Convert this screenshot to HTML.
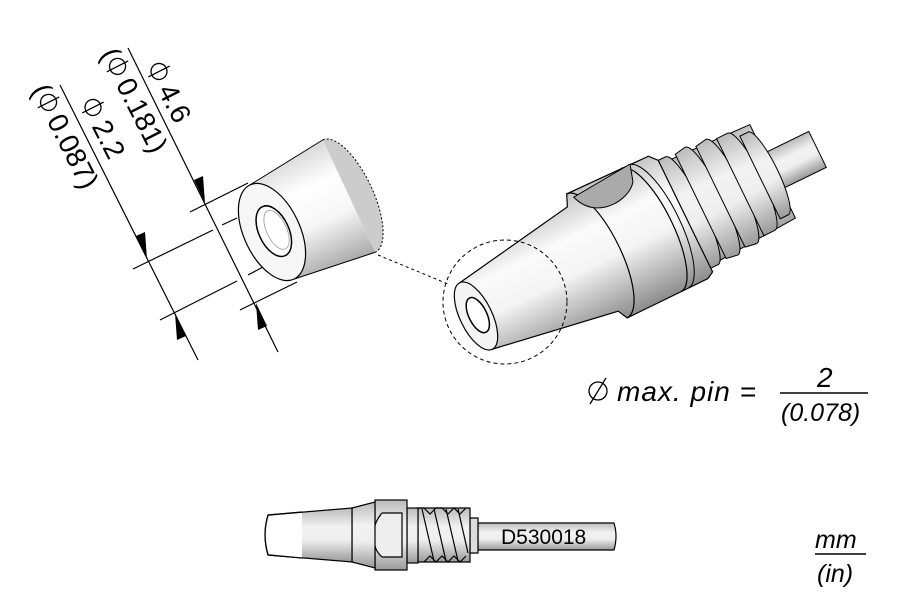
<!DOCTYPE html>
<html><head><meta charset="utf-8"><style>
html,body{margin:0;padding:0;background:#fff;}
svg{display:block;font-family:"Liberation Sans",sans-serif;}
</style></head><body>
<svg width="900" height="600" viewBox="0 0 900 600" xmlns="http://www.w3.org/2000/svg">
<defs>
<linearGradient id="g" x1="0" y1="0" x2="0" y2="1">
<stop offset="0" stop-color="#c4c4c4"/><stop offset="0.3" stop-color="#fafafa"/><stop offset="0.55" stop-color="#f4f4f4"/><stop offset="1" stop-color="#8c8c8c"/>
</linearGradient>
<linearGradient id="gb" x1="0" y1="0" x2="0" y2="1">
<stop offset="0" stop-color="#d8d8d8"/><stop offset="0.3" stop-color="#fff"/><stop offset="0.6" stop-color="#f6f6f6"/><stop offset="1" stop-color="#a8a8a8"/>
</linearGradient>
<linearGradient id="gh" x1="0" y1="0" x2="0" y2="1">
<stop offset="0" stop-color="#bbb"/><stop offset="0.35" stop-color="#f2f2f2"/><stop offset="0.6" stop-color="#eee"/><stop offset="1" stop-color="#999"/>
</linearGradient>
</defs>

<!-- dimension lines -->
<g stroke="#000" stroke-width="1.2" fill="none">
<line x1="60" y1="85" x2="198" y2="360"/>
<line x1="128" y1="48" x2="278" y2="352"/>
<line x1="190" y1="212" x2="248" y2="183"/>
<line x1="133" y1="269" x2="213" y2="230"/>
<line x1="222" y1="225" x2="237" y2="218"/>
<line x1="160" y1="320" x2="237" y2="281"/>
<line x1="248" y1="275" x2="263" y2="267"/>
<line x1="240" y1="310" x2="297" y2="282"/>
</g>
<g fill="#000">
<polygon points="147,259 136,236 145,232"/>
<polygon points="175,313 186,336 177,340"/>
<polygon points="205,203 194,180 203,176"/>
<polygon points="256,303 267,326 258,330"/>
</g>
<g font-size="28" fill="#000" stroke="none">
<g transform="translate(146,68) rotate(63)">
<circle cx="9" cy="-10" r="8" fill="none" stroke="#000" stroke-width="1.3"/><line x1="9" y1="-22" x2="9" y2="2" stroke="#000" stroke-width="1.3"/>
<text x="25" y="0">4.6</text></g>
<g transform="translate(100,54) rotate(63)">
<text x="0" y="0">(</text>
<circle cx="19" cy="-10" r="8" fill="none" stroke="#000" stroke-width="1.3"/><line x1="19" y1="-22" x2="19" y2="2" stroke="#000" stroke-width="1.3"/>
<text x="34" y="0">0.181)</text></g>
<g transform="translate(80,104) rotate(63)">
<circle cx="9" cy="-10" r="8" fill="none" stroke="#000" stroke-width="1.3"/><line x1="9" y1="-22" x2="9" y2="2" stroke="#000" stroke-width="1.3"/>
<text x="25" y="0">2.2</text></g>
<g transform="translate(31,90) rotate(63)">
<text x="0" y="0">(</text>
<circle cx="19" cy="-10" r="8" fill="none" stroke="#000" stroke-width="1.3"/><line x1="19" y1="-22" x2="19" y2="2" stroke="#000" stroke-width="1.3"/>
<text x="34" y="0">0.087)</text></g>
</g>

<!-- small tip -->
<g transform="translate(272,232) rotate(-25)">
<path d="M0,-52 L85,-62 L85,62 L0,52 Z" fill="url(#gb)"/>
<path d="M85,-62 A24,62 0 0 1 85,62" fill="#ccc" stroke="#000" stroke-width="1" stroke-dasharray="2,2"/>
<line x1="0" y1="-52" x2="85" y2="-62" stroke="#000" stroke-width="1"/>
<line x1="0" y1="52" x2="85" y2="62" stroke="#000" stroke-width="1"/>
<ellipse cx="0" cy="0" rx="28" ry="52" fill="#f6f6f6" stroke="#000" stroke-width="1.2"/>
<ellipse cx="2" cy="0" rx="15" ry="27" fill="#fff" stroke="#000" stroke-width="1.5"/>
<ellipse cx="5" cy="0" rx="10" ry="21" fill="#fff" stroke="#999" stroke-width="0.8"/>
</g>

<line x1="378" y1="255" x2="448" y2="284" stroke="#000" stroke-width="1" stroke-dasharray="3,3"/>

<!-- big tip -->
<g transform="translate(476,316) rotate(-26)">
<rect x="320" y="-20" width="60" height="40" fill="url(#gh)" stroke="#000" stroke-width="1"/>
<path d="M225,-56 L330,-52 L330,52 L225,58 Z" fill="url(#gh)" stroke="#000"/>
<g fill="url(#gh)" stroke="#000" stroke-width="1">
<path d="M240,-60 A12,60 0 0 1 240,60 L228,60 L228,-60 Z"/>
<path d="M262,-60 A12,60 0 0 1 262,60 L250,58 L250,-58 Z"/>
<path d="M284,-58 A12,58 0 0 1 284,58 L272,56 L272,-56 Z"/>
<path d="M306,-54 A12,54 0 0 1 306,54 L294,54 L294,-54 Z"/>
<path d="M325,-46 A10,46 0 0 1 325,46 L316,46 L316,-46 Z"/>
</g>
<path d="M0,-37 L130,-58 L135,-70 L225,-68 L232,-60 L232,64 L225,68 L135,68 L130,58 L0,37 Z" fill="url(#g)" stroke="#000" stroke-width="1.2"/>
<path d="M135,-70 A24,69 0 0 1 135,68" fill="none" stroke="#000" stroke-width="1.2"/>
<path d="M195,-69 A22,68 0 0 1 195,68" fill="none" stroke="#000" stroke-width="1.2"/>
<path d="M203,-69 A22,68 0 0 1 203,68" fill="none" stroke="#000" stroke-width="1"/>
<path d="M140,-64 C150,-32 190,-37 200,-52 L205,-69 Z" fill="#aaa" stroke="#000" stroke-width="1"/>
<ellipse cx="0" cy="0" rx="16" ry="37" fill="#f4f4f4" stroke="#000" stroke-width="1.2"/>
<ellipse cx="2" cy="0" rx="9" ry="19" fill="#fff" stroke="#000" stroke-width="1.5"/>
</g>
<circle cx="505" cy="302" r="62" fill="none" stroke="#000" stroke-width="1" stroke-dasharray="4,3"/>

<!-- max pin -->
<circle cx="598" cy="391" r="9" fill="none" stroke="#000" stroke-width="1.3"/>
<line x1="606" y1="378" x2="590" y2="404" stroke="#000" stroke-width="1.3"/>
<g font-style="italic" font-size="28" fill="#000">
<text x="617" y="401" letter-spacing="1">max. pin =</text>
<text x="817" y="387">2</text>
<text x="781" y="421" font-size="25">(0.078)</text>
</g>
<line x1="780" y1="393" x2="868" y2="393" stroke="#000" stroke-width="1.5"/>

<!-- bottom side view -->
<g stroke="#000" stroke-width="1.2">
<path d="M478,523 L614,523 Q618,536 614,550 L478,550 Z" fill="url(#gh)"/>
<path d="M470,518 L478,518 L478,553 L470,553 Z" fill="#ddd"/>
<path d="M418,508 L470,508 L470,562 L418,562 Z" fill="url(#gh)"/>
<path d="M418,508 L424,508 L430,514 L436,508 L442,508 L448,514 L454,508 L460,514 L466,508 M424,562 L430,556 L436,562 L442,556 L448,562 L454,556 L460,562 L466,556" fill="none"/>
<path d="M422,509 L434,561 M434,509 L446,561 M446,509 L458,561 M458,509 L468,553" fill="none"/>
<rect x="407" y="508" width="11" height="55" fill="url(#gh)"/>
<rect x="375" y="500" width="32" height="70" fill="url(#gh)"/>
<path d="M382,513 L402,513 L402,557 L382,557 M382,513 Q372,525 375,535 Q372,548 382,557" fill="#eee"/>
<path d="M352,508 L375,502 L375,568 L352,562 Z" fill="url(#gh)"/>
<path d="M268,515 L352,508 L352,562 L268,555 Q262,535 268,515 Z" fill="url(#gh)"/>
</g>
<path d="M269,516 L302,513 L302,558 L269,554 Q264,535 269,516 Z" fill="#fff"/>
<path d="M268,515 Q262,535 268,555" fill="none" stroke="#000" stroke-width="1.2"/>
<line x1="268" y1="515" x2="302" y2="512" stroke="#000" stroke-width="1.2"/>
<line x1="268" y1="555" x2="302" y2="558" stroke="#000" stroke-width="1.2"/>
<text x="501" y="544" font-size="21" fill="#000">D530018</text>

<!-- units -->
<g font-style="italic" font-size="25" fill="#000">
<text x="815" y="548">mm</text>
<text x="817" y="582">(in)</text>
</g>
<line x1="815" y1="554" x2="866" y2="554" stroke="#000" stroke-width="1.5"/>
</svg>
</body></html>
